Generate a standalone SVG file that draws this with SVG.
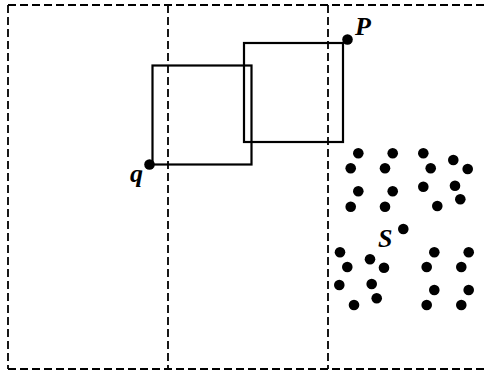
<svg xmlns="http://www.w3.org/2000/svg" width="484" height="376" viewBox="0 0 484 376">
<style>
.dash{fill:none;stroke:#000;stroke-width:1.8;stroke-dasharray:8,4}
.box{fill:none;stroke:#000;stroke-width:2.2}
.pt{fill:#000}
.lbl{font-family:"Liberation Serif","Times New Roman",serif;font-weight:bold;font-style:italic;font-size:26px;fill:#000}
</style>
<rect width="484" height="376" fill="#fff"/>
<g id="grid">
<line class="dash" x1="8" y1="5" x2="484" y2="5"/>
<line class="dash" x1="8" y1="369" x2="484" y2="369"/>
<line class="dash" x1="8" y1="5" x2="8" y2="369"/>
<line class="dash" x1="168" y1="5" x2="168" y2="369"/>
<line class="dash" x1="328" y1="5" x2="328" y2="369"/>
</g>
<g id="box-q">
<rect class="box" x="152.5" y="65.5" width="99" height="99"/>
</g>
<g id="box-p">
<rect class="box" x="244" y="43" width="99" height="99"/>
</g>
<g id="point-p">
<circle class="pt" cx="347.5" cy="39.5" r="5.3"/>
<text class="lbl" x="355" y="35">P</text>
</g>
<g id="point-q">
<circle class="pt" cx="149.5" cy="164.5" r="5.3"/>
<text class="lbl" x="130" y="182">q</text>
</g>
<g id="set-s">
<circle class="pt" cx="403.3" cy="229" r="5.3"/>
<text class="lbl" x="378" y="247">S</text>
<circle class="pt" cx="358.3" cy="153.3" r="5.3"/>
<circle class="pt" cx="392.7" cy="153.3" r="5.3"/>
<circle class="pt" cx="423.3" cy="153.3" r="5.3"/>
<circle class="pt" cx="453.3" cy="160" r="5.3"/>
<circle class="pt" cx="350.7" cy="168.3" r="5.3"/>
<circle class="pt" cx="385" cy="168.3" r="5.3"/>
<circle class="pt" cx="430.7" cy="168.3" r="5.3"/>
<circle class="pt" cx="467.7" cy="169" r="5.3"/>
<circle class="pt" cx="358.3" cy="191.3" r="5.3"/>
<circle class="pt" cx="392.7" cy="191.3" r="5.3"/>
<circle class="pt" cx="423.3" cy="186.7" r="5.3"/>
<circle class="pt" cx="455" cy="185.7" r="5.3"/>
<circle class="pt" cx="350.7" cy="206.7" r="5.3"/>
<circle class="pt" cx="385" cy="206.7" r="5.3"/>
<circle class="pt" cx="437.3" cy="206" r="5.3"/>
<circle class="pt" cx="460.3" cy="199.3" r="5.3"/>
<circle class="pt" cx="340" cy="252.3" r="5.3"/>
<circle class="pt" cx="434.3" cy="252.3" r="5.3"/>
<circle class="pt" cx="468.7" cy="252.3" r="5.3"/>
<circle class="pt" cx="347.3" cy="267" r="5.3"/>
<circle class="pt" cx="370" cy="259.3" r="5.3"/>
<circle class="pt" cx="384" cy="267.7" r="5.3"/>
<circle class="pt" cx="426.7" cy="267" r="5.3"/>
<circle class="pt" cx="461.3" cy="267" r="5.3"/>
<circle class="pt" cx="339.3" cy="285" r="5.3"/>
<circle class="pt" cx="371.7" cy="284" r="5.3"/>
<circle class="pt" cx="434.3" cy="290" r="5.3"/>
<circle class="pt" cx="468.7" cy="290" r="5.3"/>
<circle class="pt" cx="376.7" cy="298.3" r="5.3"/>
<circle class="pt" cx="354" cy="305" r="5.3"/>
<circle class="pt" cx="426.7" cy="305" r="5.3"/>
<circle class="pt" cx="461.3" cy="305" r="5.3"/>
</g>
</svg>
